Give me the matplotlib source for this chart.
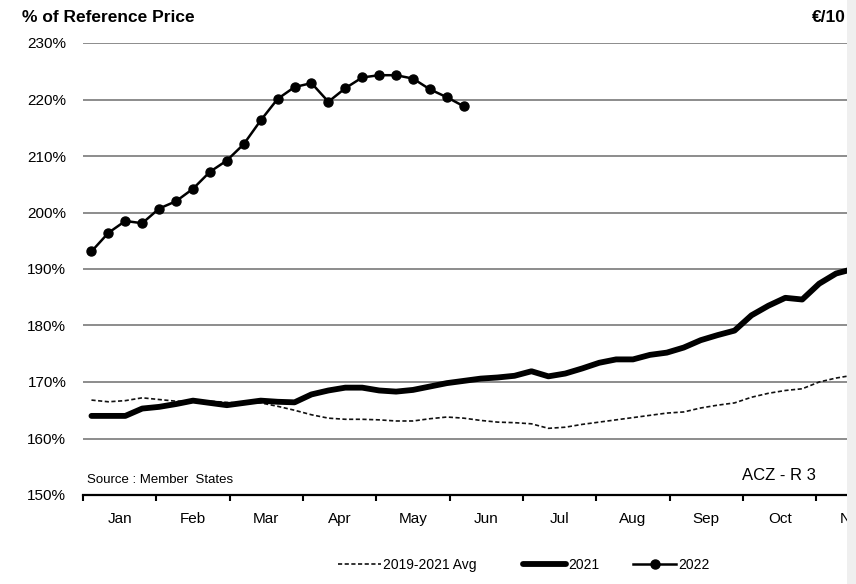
import numpy as np
import matplotlib.pyplot as plt
from matplotlib.patches import Rectangle

plt.rcParams['font.family'] = ['Liberation Sans', 'DejaVu Sans']

months = ['Jan', 'Feb', 'Mar', 'Apr', 'May', 'Jun', 'Jul', 'Aug', 'Sep', 'Oct', 'Nov', 'Dec']

# weekly values, % of reference price
avg_2019_2021 = [166.8, 166.5, 166.7, 167.2, 166.9, 166.6, 166.6, 166.6, 166.4, 166.2,
                 166.3, 165.7, 165.0, 164.2, 163.6, 163.4, 163.4, 163.3, 163.1, 163.1,
                 163.5, 163.8, 163.6, 163.2, 162.9, 162.8, 162.6, 161.8, 162.0, 162.5,
                 162.9, 163.3, 163.7, 164.1, 164.5, 164.7, 165.4, 165.9, 166.3, 167.3,
                 168.0, 168.5, 168.8, 170.0, 170.7, 171.2]
y2021 = [164.0, 164.0, 164.0, 165.3, 165.6, 166.1, 166.7, 166.3, 165.9, 166.3,
         166.7, 166.5, 166.4, 167.8, 168.5, 169.0, 169.0, 168.5, 168.3, 168.6,
         169.2, 169.8, 170.2, 170.6, 170.8, 171.1, 171.9, 171.0, 171.5, 172.4,
         173.4, 174.0, 174.0, 174.8, 175.2, 176.1, 177.4, 178.3, 179.1, 181.8,
         183.5, 184.9, 184.6, 187.4, 189.2, 190.0]
y2022 = [193.1, 196.4, 198.5, 198.1, 200.7, 202.0, 204.2, 207.2, 209.2, 212.1,
         216.3, 220.1, 222.2, 222.9, 219.6, 222.0, 223.9, 224.3, 224.3, 223.7,
         221.8, 220.4, 218.8]

W, H = 856, 584
fig = plt.figure(figsize=(W / 100, H / 100), dpi=100)
# plot area runs past the right edge of the picture (cropped original)
ax = fig.add_axes([83 / W, (H - 495) / H, 880 / W, (495 - 43) / H])

def wk(vals):
    return (np.arange(len(vals)) + 0.5) * 12 / 52

h_avg, = ax.plot(wk(avg_2019_2021), avg_2019_2021, color='#111111', lw=1.2,
                 dashes=(2.5, 1.5), label='2019-2021 Avg', zorder=3)
h21, = ax.plot(wk(y2021), y2021, color='black', lw=4.2, solid_capstyle='round',
               label='2021', zorder=4)
h22, = ax.plot(wk(y2022), y2022, color='black', lw=1.8, marker='o', ms=6.5,
               label='2022', zorder=5)

ax.set_xlim(0, 12)
ax.set_ylim(150, 230)
ax.set_yticks(np.arange(150, 231, 10))
ax.set_yticklabels([f'{v}%' for v in range(150, 231, 10)])
ax.yaxis.grid(True, color='#8c8c8c', lw=1.4)
ax.set_axisbelow(True)

ax.set_xticks(np.arange(0, 13))
ax.set_xticklabels([])
ax.set_xticks(np.arange(12) + 0.5, minor=True)
ax.set_xticklabels(months, minor=True)
ax.tick_params(axis='x', which='major', length=4, width=1.5, direction='out')
ax.tick_params(axis='x', which='minor', length=0, pad=12, labelsize=11)
ax.tick_params(axis='y', length=0, pad=12, labelsize=11)

for s in ['top', 'right', 'left']:
    ax.spines[s].set_visible(False)
ax.spines['bottom'].set_linewidth(1.6)

fig.text(22 / W, 1 - 18 / H, '% of Reference Price', fontsize=12.5,
         fontweight='bold', va='center', ha='left')
fig.text(846 / W, 1 - 18 / H, '€/10', fontsize=12.5, fontweight='bold',
         va='center', ha='right')
fig.text(87 / W, 1 - 480 / H, 'Source : Member  States', fontsize=9.5,
         va='center', ha='left')
fig.text(742 / W, 1 - 475 / H, 'ACZ - R 3', fontsize=12, va='center', ha='left')

# legend entries placed one by one, as in the original
for h, x0 in [(h_avg, 338), (h21, 523), (h22, 633)]:
    fig.legend(handles=[h], loc='center left', bbox_to_anchor=(x0 / W, 1 - 565 / H),
               frameon=False, fontsize=10, handlelength=3.1, handletextpad=0.15,
               borderpad=0, borderaxespad=0)

fig.add_artist(Rectangle((847 / W, 0), 9 / W, 1, transform=fig.transFigure,
                         facecolor='#efefef', edgecolor='none', zorder=10))

fig.savefig('out.png', dpi=100)
